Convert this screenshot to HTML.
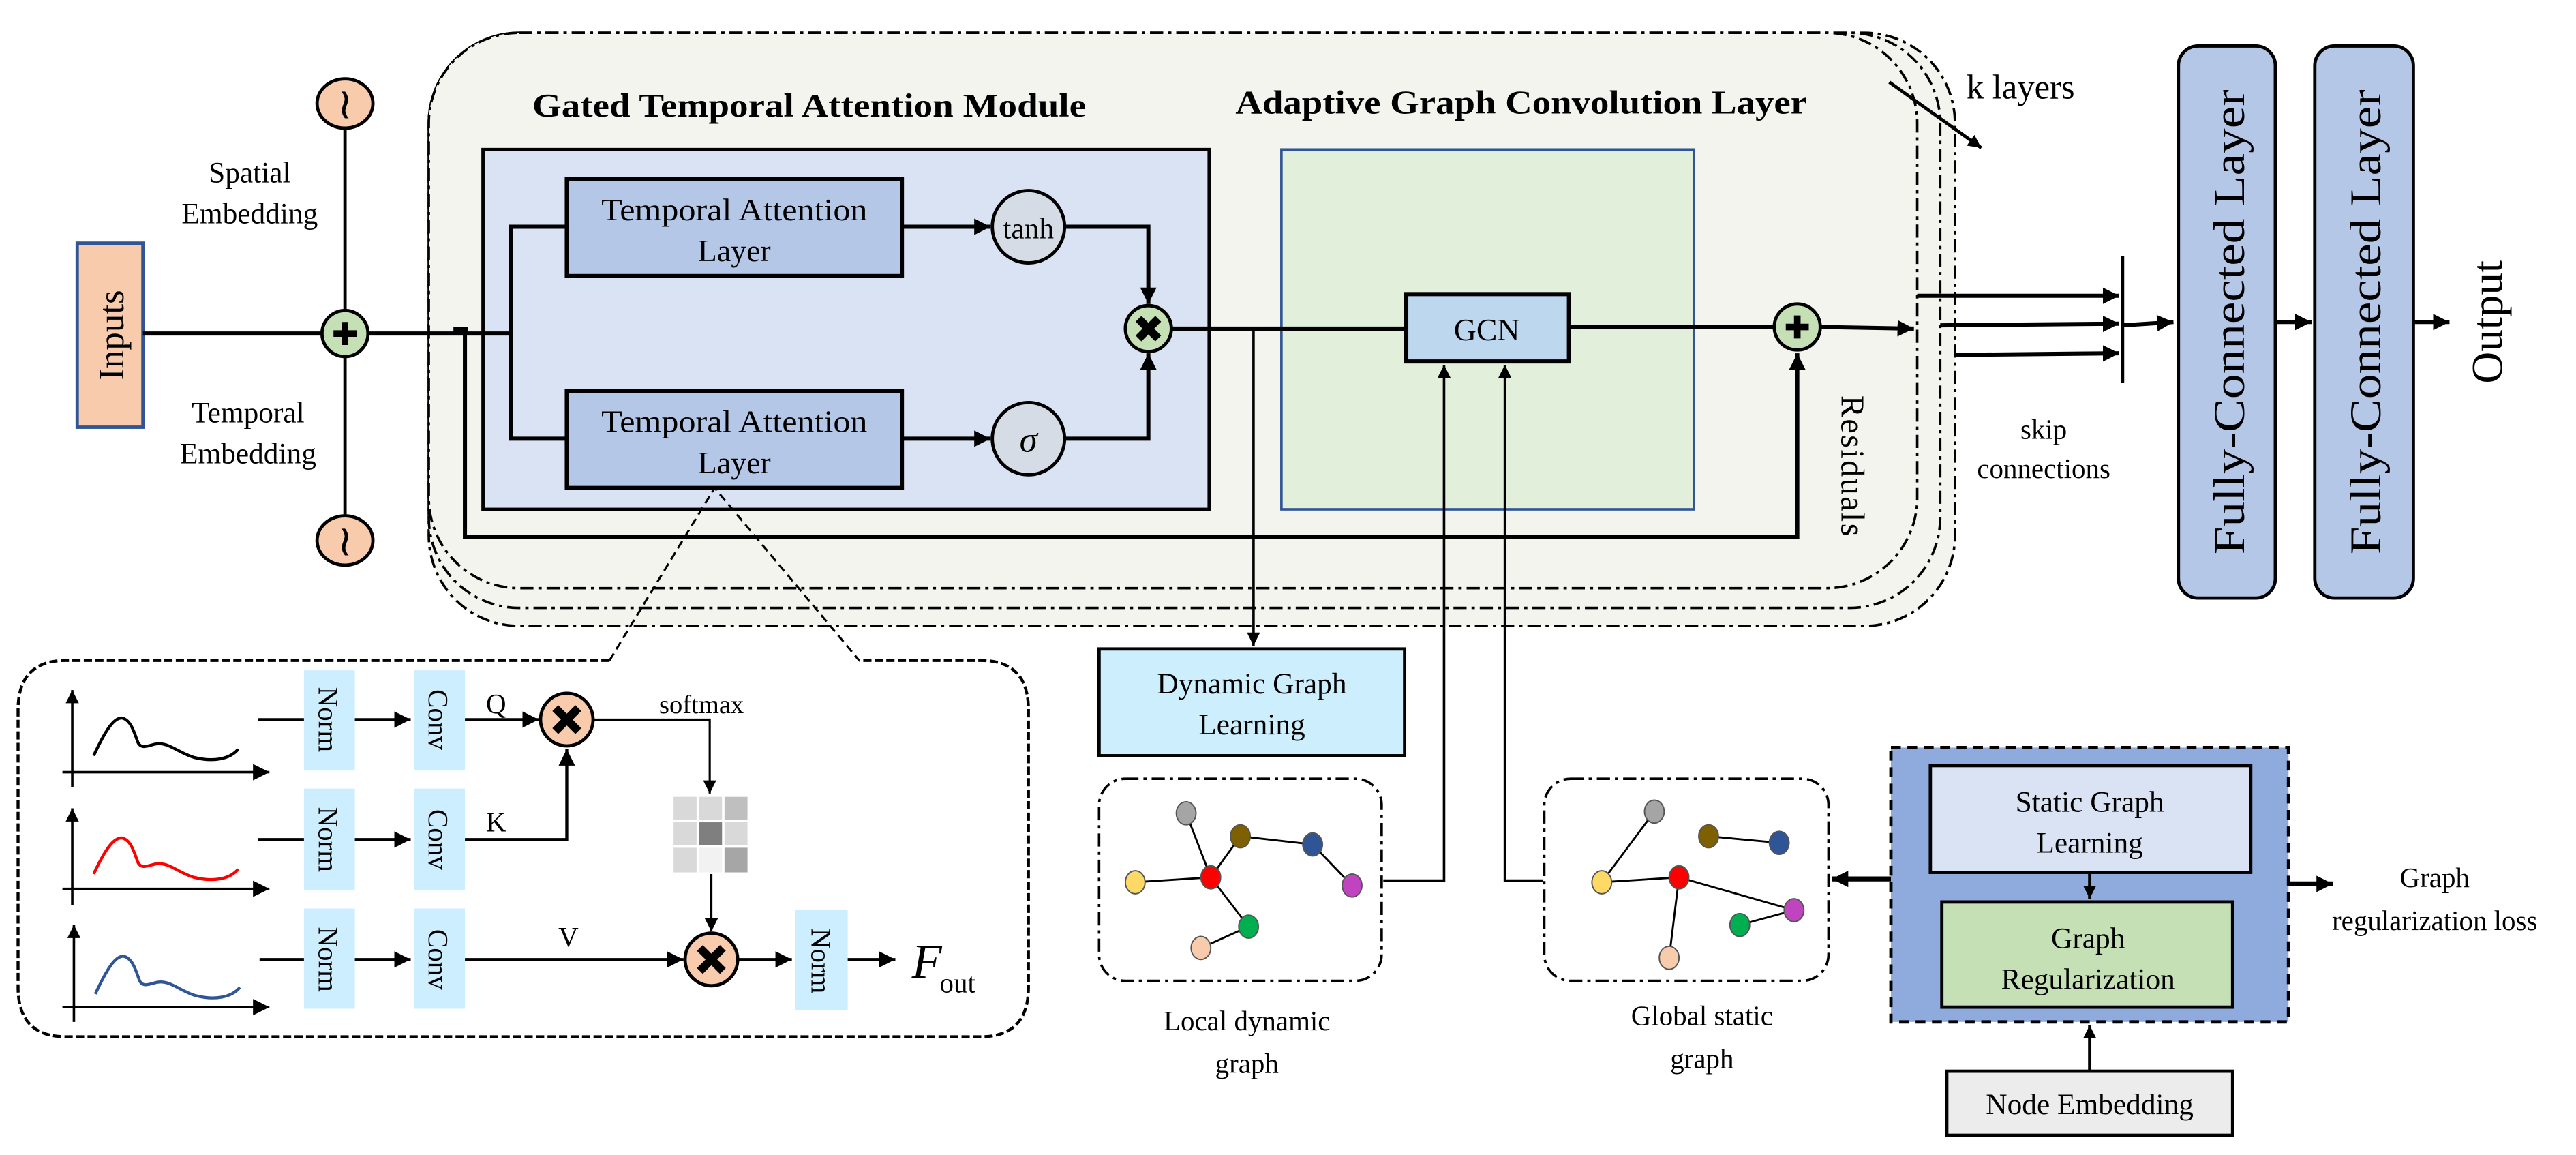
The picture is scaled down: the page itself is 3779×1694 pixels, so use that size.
<!DOCTYPE html>
<html><head><meta charset="utf-8"><style>
html,body{margin:0;padding:0;background:#fff}
svg{display:block}
svg text{font-family:"Liberation Serif","DejaVu Serif",serif;fill:#000}
</style></head><body>
<svg width="3779" height="1694" viewBox="0 0 1568 703" preserveAspectRatio="none" xmlns="http://www.w3.org/2000/svg" font-family="Liberation Serif, serif">
<defs>
<marker id="a" markerUnits="userSpaceOnUse" markerWidth="12" markerHeight="12" refX="10" refY="5" orient="auto"><path d="M0,0 L10,5 L0,10 z" fill="#000"/></marker>
<marker id="s" markerUnits="userSpaceOnUse" markerWidth="10" markerHeight="10" refX="8" refY="4" orient="auto"><path d="M0,0 L8,4 L0,8 z" fill="#000"/></marker>
</defs>

<rect x="261" y="20" width="929" height="361" rx="55" fill="#f3f4ee" stroke="#000" stroke-width="1.5" stroke-dasharray="8,3,2,3"/>
<rect x="261" y="20" width="920" height="350" rx="55" fill="#f3f4ee" stroke="#000" stroke-width="1.5" stroke-dasharray="8,3,2,3"/>
<rect x="261" y="20" width="906" height="338" rx="55" fill="#f3f4ee" stroke="#000" stroke-width="1.5" stroke-dasharray="8,3,2,3"/>

<text x="324" y="71" font-size="20" font-weight="bold" textLength="337" lengthAdjust="spacingAndGlyphs">Gated Temporal Attention Module</text>
<text x="752" y="69" font-size="20" font-weight="bold" textLength="348" lengthAdjust="spacingAndGlyphs">Adaptive Graph Convolution Layer</text>

<rect x="294" y="91" width="442" height="219" fill="#dae3f3" stroke="#000" stroke-width="2"/>
<rect x="345" y="109" width="204" height="59" fill="#b4c7e7" stroke="#000" stroke-width="2.5"/>
<text x="447" y="134" font-size="19" text-anchor="middle" textLength="162" lengthAdjust="spacingAndGlyphs">Temporal Attention</text>
<text x="447" y="159" font-size="19" text-anchor="middle">Layer</text>
<rect x="345" y="238" width="204" height="59" fill="#b4c7e7" stroke="#000" stroke-width="2.5"/>
<text x="447" y="263" font-size="19" text-anchor="middle" textLength="162" lengthAdjust="spacingAndGlyphs">Temporal Attention</text>
<text x="447" y="288" font-size="19" text-anchor="middle">Layer</text>
<ellipse cx="626" cy="138" rx="22" ry="22" fill="#d6dce5" stroke="#000" stroke-width="2"/>
<text x="626" y="145" font-size="18" text-anchor="middle">tanh</text>
<ellipse cx="626" cy="267" rx="22" ry="22" fill="#d6dce5" stroke="#000" stroke-width="2"/>
<text x="626" y="275" font-size="22" font-style="italic" text-anchor="middle">σ</text>
<path d="M549,138 H603" stroke="#000" stroke-width="2.5" marker-end="url(#a)"/>
<path d="M549,267 H603" stroke="#000" stroke-width="2.5" marker-end="url(#a)"/>
<path d="M648,138 H699 V185" stroke="#000" stroke-width="2.5" fill="none" marker-end="url(#a)"/>
<path d="M648,267 H699 V215" stroke="#000" stroke-width="2.5" fill="none" marker-end="url(#a)"/>
<path d="M345,138 H311 V267 H345" stroke="#000" stroke-width="2.5" fill="none"/>

<rect x="47" y="148" width="40" height="112" fill="#f8cbad" stroke="#2f5597" stroke-width="2"/>
<text transform="translate(75,204) rotate(-90)" font-size="22" text-anchor="middle">Inputs</text>
<path d="M87,203 H311" stroke="#000" stroke-width="2.5"/>
<path d="M210,78 V314" stroke="#000" stroke-width="2"/>
<ellipse cx="210" cy="63" rx="17" ry="15" fill="#f8cbad" stroke="#000" stroke-width="2"/>
<text x="210" y="72" font-size="26" text-anchor="middle">≀</text>
<ellipse cx="210" cy="329" rx="17" ry="15" fill="#f8cbad" stroke="#000" stroke-width="2"/>
<text x="210" y="338" font-size="26" text-anchor="middle">≀</text>
<ellipse cx="210" cy="203" rx="14" ry="14" fill="#c5e0b4" stroke="#000" stroke-width="2"/>
<path d="M210,196 V210 M203,203 H217" stroke="#000" stroke-width="4"/>
<text x="152" y="111" font-size="18" text-anchor="middle">Spatial</text>
<text x="152" y="136" font-size="18" text-anchor="middle">Embedding</text>
<text x="151" y="257" font-size="18" text-anchor="middle">Temporal</text>
<text x="151" y="282" font-size="18" text-anchor="middle">Embedding</text>

<path d="M276,201 H285" stroke="#000" stroke-width="4"/>
<path d="M283,203 V327 H1094 V215" stroke="#000" stroke-width="2.5" fill="none" marker-end="url(#a)"/>

<rect x="780" y="91" width="251" height="219" fill="#e2efda" stroke="#2f5597" stroke-width="1.5"/>
<path d="M713,200 H856" stroke="#000" stroke-width="2.5"/>
<ellipse cx="699" cy="200" rx="14" ry="14" fill="#c5e0b4" stroke="#000" stroke-width="2"/>
<path d="M693,194 L705,206 M705,194 L693,206" stroke="#000" stroke-width="5"/>
<rect x="856" y="179" width="99" height="41" fill="#bdd7ee" stroke="#000" stroke-width="2.5"/>
<text x="905" y="207" font-size="19" text-anchor="middle">GCN</text>
<path d="M955,199 H1080" stroke="#000" stroke-width="2.5"/>
<ellipse cx="1094" cy="199" rx="14" ry="14" fill="#c5e0b4" stroke="#000" stroke-width="2"/>
<path d="M1094,192 V206 M1087,199 H1101" stroke="#000" stroke-width="4"/>
<path d="M1108,199 L1165,200" stroke="#000" stroke-width="2.5" marker-end="url(#a)"/>
<path d="M763,200 V393" stroke="#000" stroke-width="1.5" marker-end="url(#s)"/>
<path d="M842,536 H879 V222" stroke="#000" stroke-width="1.5" fill="none" marker-end="url(#s)"/>
<path d="M939,536 H916 V222" stroke="#000" stroke-width="1.5" fill="none" marker-end="url(#s)"/>
<text transform="translate(1121,284) rotate(90)" font-size="20" text-anchor="middle" letter-spacing="1">Residuals</text>

<text x="1197" y="60" font-size="21">k layers</text>
<path d="M1150,50 L1206,90" stroke="#000" stroke-width="2" marker-end="url(#s)"/>

<path d="M1167,180 H1290" stroke="#000" stroke-width="2.5" marker-end="url(#a)"/>
<path d="M1181,198 L1290,197" stroke="#000" stroke-width="2.5" marker-end="url(#a)"/>
<path d="M1190,216 L1290,215" stroke="#000" stroke-width="2.5" marker-end="url(#a)"/>
<path d="M1292,156 V233" stroke="#000" stroke-width="2"/>
<path d="M1292,198 L1323,196" stroke="#000" stroke-width="2.5" marker-end="url(#a)"/>
<text x="1244" y="267" font-size="17" text-anchor="middle">skip</text>
<text x="1244" y="291" font-size="17" text-anchor="middle">connections</text>

<rect x="1326" y="28" width="59" height="336" rx="12" fill="#b4c7e7" stroke="#000" stroke-width="2"/>
<text transform="translate(1366,196) rotate(-90)" font-size="27" text-anchor="middle" textLength="283" lengthAdjust="spacingAndGlyphs">Fully-Connected Layer</text>
<rect x="1409" y="28" width="60" height="336" rx="12" fill="#b4c7e7" stroke="#000" stroke-width="2"/>
<text transform="translate(1449,196) rotate(-90)" font-size="27" text-anchor="middle" textLength="283" lengthAdjust="spacingAndGlyphs">Fully-Connected Layer</text>
<path d="M1385,196 H1407" stroke="#000" stroke-width="2.5" marker-end="url(#a)"/>
<path d="M1469,196 H1491" stroke="#000" stroke-width="2.5" marker-end="url(#a)"/>
<text transform="translate(1523,196) rotate(-90)" font-size="27" text-anchor="middle">Output</text>

<rect x="669" y="395" width="186" height="65" fill="#cdeefc" stroke="#000" stroke-width="2"/>
<text x="762" y="422" font-size="18" text-anchor="middle">Dynamic Graph</text>
<text x="762" y="447" font-size="18" text-anchor="middle">Learning</text>

<rect x="669" y="474" width="172" height="123" rx="16" fill="none" stroke="#000" stroke-width="1.5" stroke-dasharray="8,3,2,3"/>
<rect x="940" y="474" width="173" height="123" rx="16" fill="none" stroke="#000" stroke-width="1.5" stroke-dasharray="8,3,2,3"/>
<g stroke="#000" stroke-width="1.2">
<path d="M722,495 L737,534 M755,509 L737,534 M755,509 L799,514 M799,514 L823,539 M691,537 L737,534 M737,534 L760,564 M760,564 L731,577"/>
<path d="M1007,494 L975,537 M1040,509 L1083,513 M975,537 L1022,534 M1022,534 L1092,554 M1022,534 L1016,583 M1092,554 L1059,563"/>
</g>
<g stroke="#555" stroke-width="0.8">
<ellipse cx="722" cy="495" rx="6" ry="7" fill="#a5a5a5"/><ellipse cx="755" cy="509" rx="6" ry="7" fill="#7f6000"/>
<ellipse cx="799" cy="514" rx="6" ry="7" fill="#2f5597"/><ellipse cx="691" cy="537" rx="6" ry="7" fill="#ffd966"/>
<ellipse cx="737" cy="534" rx="6" ry="7" fill="#ff0000"/><ellipse cx="823" cy="539" rx="6" ry="7" fill="#c043c0"/>
<ellipse cx="760" cy="564" rx="6" ry="7" fill="#00b050"/><ellipse cx="731" cy="577" rx="6" ry="7" fill="#f8cbad"/>
<ellipse cx="1007" cy="494" rx="6" ry="7" fill="#a5a5a5"/><ellipse cx="1040" cy="509" rx="6" ry="7" fill="#7f6000"/>
<ellipse cx="1083" cy="513" rx="6" ry="7" fill="#2f5597"/><ellipse cx="975" cy="537" rx="6" ry="7" fill="#ffd966"/>
<ellipse cx="1022" cy="534" rx="6" ry="7" fill="#ff0000"/><ellipse cx="1092" cy="554" rx="6" ry="7" fill="#c043c0"/>
<ellipse cx="1059" cy="563" rx="6" ry="7" fill="#00b050"/><ellipse cx="1016" cy="583" rx="6" ry="7" fill="#f8cbad"/>
</g>
<text x="759" y="627" font-size="17" text-anchor="middle">Local dynamic</text>
<text x="759" y="653" font-size="17" text-anchor="middle">graph</text>
<text x="1036" y="624" font-size="17" text-anchor="middle">Global static</text>
<text x="1036" y="650" font-size="17" text-anchor="middle">graph</text>

<rect x="1151" y="455" width="242" height="167" fill="#8faadc" stroke="#000" stroke-width="2" stroke-dasharray="6,4"/>
<rect x="1175" y="466" width="195" height="65" fill="#dae3f3" stroke="#000" stroke-width="2"/>
<text x="1272" y="494" font-size="18" text-anchor="middle">Static Graph</text>
<text x="1272" y="519" font-size="18" text-anchor="middle">Learning</text>
<rect x="1182" y="549" width="177" height="64" fill="#c5e0b4" stroke="#000" stroke-width="2"/>
<text x="1271" y="577" font-size="18" text-anchor="middle">Graph</text>
<text x="1271" y="602" font-size="18" text-anchor="middle">Regularization</text>
<path d="M1272,531 V547" stroke="#000" stroke-width="2" marker-end="url(#s)"/>
<path d="M1151,535 H1115" stroke="#000" stroke-width="3" marker-end="url(#a)"/>
<path d="M1393,538 H1420" stroke="#000" stroke-width="3" marker-end="url(#a)"/>
<text x="1482" y="540" font-size="17" text-anchor="middle">Graph</text>
<text x="1482" y="566" font-size="17" text-anchor="middle">regularization loss</text>
<rect x="1185" y="652" width="174" height="39" fill="#ececec" stroke="#000" stroke-width="2"/>
<text x="1272" y="678" font-size="18" text-anchor="middle">Node Embedding</text>
<path d="M1272,652 V624" stroke="#000" stroke-width="2" marker-end="url(#s)"/>

<path d="M371,402 H40 Q11,402 11,432 V601 Q11,631 40,631 H597 Q626,631 626,601 V432 Q626,402 597,402 H523" fill="none" stroke="#000" stroke-width="1.8" stroke-dasharray="5,2"/>
<path d="M371,402 L435,297 L523,402" fill="none" stroke="#000" stroke-width="1.3" stroke-dasharray="5,3"/>

<g stroke="#000" stroke-width="1.5" fill="none">
<path d="M44,479 V420" marker-end="url(#s)"/><path d="M38,470 H164" marker-end="url(#a)"/>
<path d="M44,551 V492" marker-end="url(#s)"/><path d="M38,541 H164" marker-end="url(#a)"/>
<path d="M45,622 V563" marker-end="url(#s)"/><path d="M38,613 H164" marker-end="url(#a)"/>
</g>
<path d="M57,460 C64,445 69,437 74,437 C80,438 82,447 84,452 C86,456 90,454 94,453 C102,451 108,458 118,461 C130,464 140,462 145,456" fill="none" stroke="#000" stroke-width="1.8"/>
<path d="M57,532 C64,517 69,510 74,510 C80,511 82,520 84,525 C86,529 90,527 94,526 C102,524 108,531 118,534 C130,537 140,535 145,529" fill="none" stroke="#ff0000" stroke-width="1.8"/>
<path d="M58,605 C65,590 70,582 75,582 C81,583 83,592 85,597 C87,601 91,599 95,598 C103,596 109,603 119,606 C131,609 141,607 146,601" fill="none" stroke="#2f5597" stroke-width="1.8"/>

<g fill="#cceeff">
<rect x="185" y="408" width="31" height="61"/><rect x="252" y="408" width="31" height="61"/>
<rect x="185" y="480" width="31" height="62"/><rect x="252" y="480" width="31" height="62"/>
<rect x="185" y="553" width="31" height="61"/><rect x="252" y="553" width="31" height="61"/>
<rect x="484" y="554" width="32" height="61"/>
</g>
<g font-size="17">
<text transform="translate(194,438) rotate(90)" text-anchor="middle">Norm</text>
<text transform="translate(261,438) rotate(90)" text-anchor="middle">Conv</text>
<text transform="translate(194,511) rotate(90)" text-anchor="middle">Norm</text>
<text transform="translate(261,511) rotate(90)" text-anchor="middle">Conv</text>
<text transform="translate(194,584) rotate(90)" text-anchor="middle">Norm</text>
<text transform="translate(261,584) rotate(90)" text-anchor="middle">Conv</text>
<text transform="translate(494,585) rotate(90)" text-anchor="middle">Norm</text>
</g>
<g stroke="#000" stroke-width="1.8" fill="none">
<path d="M157,438 H185"/><path d="M157,511 H185"/><path d="M158,584 H185"/>
<path d="M216,438 H250" marker-end="url(#a)"/><path d="M216,511 H250" marker-end="url(#a)"/><path d="M216,584 H250" marker-end="url(#a)"/>
<path d="M283,438 H328" marker-end="url(#a)"/>
<path d="M283,511 H345 V456" marker-end="url(#a)"/>
<path d="M361,438 H432 V483" stroke-width="1.3" marker-end="url(#s)"/>
<path d="M433,532 V567" stroke-width="1.3" marker-end="url(#s)"/>
<path d="M283,584 H416" marker-end="url(#a)"/>
<path d="M449,584 H482" marker-end="url(#a)"/>
<path d="M516,584 H545" marker-end="url(#a)"/>
</g>
<ellipse cx="345" cy="438" rx="16" ry="16" fill="#f8cbad" stroke="#000" stroke-width="2"/>
<path d="M338,431 L352,445 M352,431 L338,445" stroke="#000" stroke-width="5"/>
<ellipse cx="433" cy="584" rx="16" ry="16" fill="#f8cbad" stroke="#000" stroke-width="2"/>
<path d="M426,577 L440,591 M440,577 L426,591" stroke="#000" stroke-width="5"/>
<text x="302" y="434" font-size="17" text-anchor="middle">Q</text>
<text x="302" y="506" font-size="17" text-anchor="middle">K</text>
<text x="346" y="576" font-size="17" text-anchor="middle">V</text>
<text x="427" y="434" font-size="16" text-anchor="middle">softmax</text>
<g>
<rect x="410" y="485" width="14" height="14" fill="#d9d9d9"/><rect x="425.5" y="485" width="14" height="14" fill="#d9d9d9"/><rect x="441" y="485" width="14" height="14" fill="#bfbfbf"/>
<rect x="410" y="500.5" width="14" height="14" fill="#d9d9d9"/><rect x="425.5" y="500.5" width="14" height="14" fill="#7f7f7f"/><rect x="441" y="500.5" width="14" height="14" fill="#d9d9d9"/>
<rect x="410" y="516" width="14" height="15" fill="#d9d9d9"/><rect x="425.5" y="516" width="14" height="15" fill="#f2f2f2"/><rect x="441" y="516" width="14" height="15" fill="#a6a6a6"/>
</g>
<text x="555" y="595" font-size="30" font-style="italic">F</text>
<text x="572" y="604" font-size="17">out</text>
</svg>
</body></html>
